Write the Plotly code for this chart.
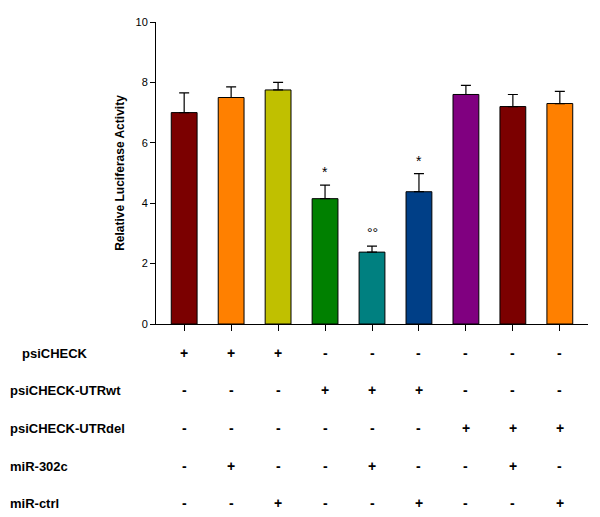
import plotly.graph_objects as go

cats = ["A","B","C","D","E","F","G","H","I"]
values = [7.0, 7.5, 7.75, 4.15, 2.38, 4.38, 7.6, 7.2, 7.3]
errors = [0.65, 0.35, 0.25, 0.45, 0.2, 0.6, 0.3, 0.4, 0.4]
colors = ["#7B0000", "#FF8000", "#C0C000", "#008000", "#008080", "#003F87", "#800080", "#7B0000", "#FF8000"]
marks = ["", "", "", "*", "°°", "*", "", "", ""]
row_labels = ["psiCHECK", "psiCHECK-UTRwt", "psiCHECK-UTRdel", "miR-302c", "miR-ctrl"]
row_signs = [
    "+++------",
    "---+++---",
    "------+++",
    "-+--+--+-",
    "--+--+--+",
]
row_y = [-0.129, -0.251, -0.376, -0.502, -0.625]
row_x = [-0.315, -0.343, -0.343, -0.343, -0.343]

fig = go.Figure(go.Bar(
    x=cats, y=values, marker=dict(color=colors, line=dict(color="black", width=1)),
    width=0.55,
    error_y=dict(type="data", array=errors, arrayminus=[0]*9, color="black", thickness=1.2, width=5),
))
ann = []
for c, v, e, m in zip(cats, values, errors, marks):
    if m:
        ann.append(dict(x=c, y=v+e+0.1, text=m, showarrow=False, xref="x", yref="y",
                        font=dict(size=14, color="black"), yanchor="bottom"))
for lab, signs, yy, xx in zip(row_labels, row_signs, row_y, row_x):
    ann.append(dict(x=xx, y=yy, xref="paper", yref="paper", text=f"<b>{lab}</b>", showarrow=False,
                    xanchor="left", font=dict(size=13, color="black")))
    for c, s in zip(cats, signs):
        ann.append(dict(x=c, y=yy, xref="x", yref="paper", text=f"<b>{s}</b>", showarrow=False,
                        font=dict(size=14, color="black")))
fig.update_layout(
    width=600, height=517, margin=dict(l=148, r=20, t=8, b=201),
    plot_bgcolor="white", paper_bgcolor="white", showlegend=False,
    font=dict(family="Liberation Sans, Arial", color="black"),
    annotations=ann,
)
fig.update_xaxes(type="category", showline=True, linecolor="black", ticks="outside", ticklen=6,
                 tickcolor="black", showticklabels=False, range=[-0.6, 8.6])
fig.update_yaxes(showline=True, linecolor="black", ticks="outside", ticklen=5, tickcolor="black",
                 range=[0, 10], dtick=2, showgrid=False, zeroline=False, tickfont=dict(size=11),
                 title=dict(text="<b>Relative Luciferase Activity</b>", font=dict(size=12), standoff=8))
fig.write_html("out.html")
